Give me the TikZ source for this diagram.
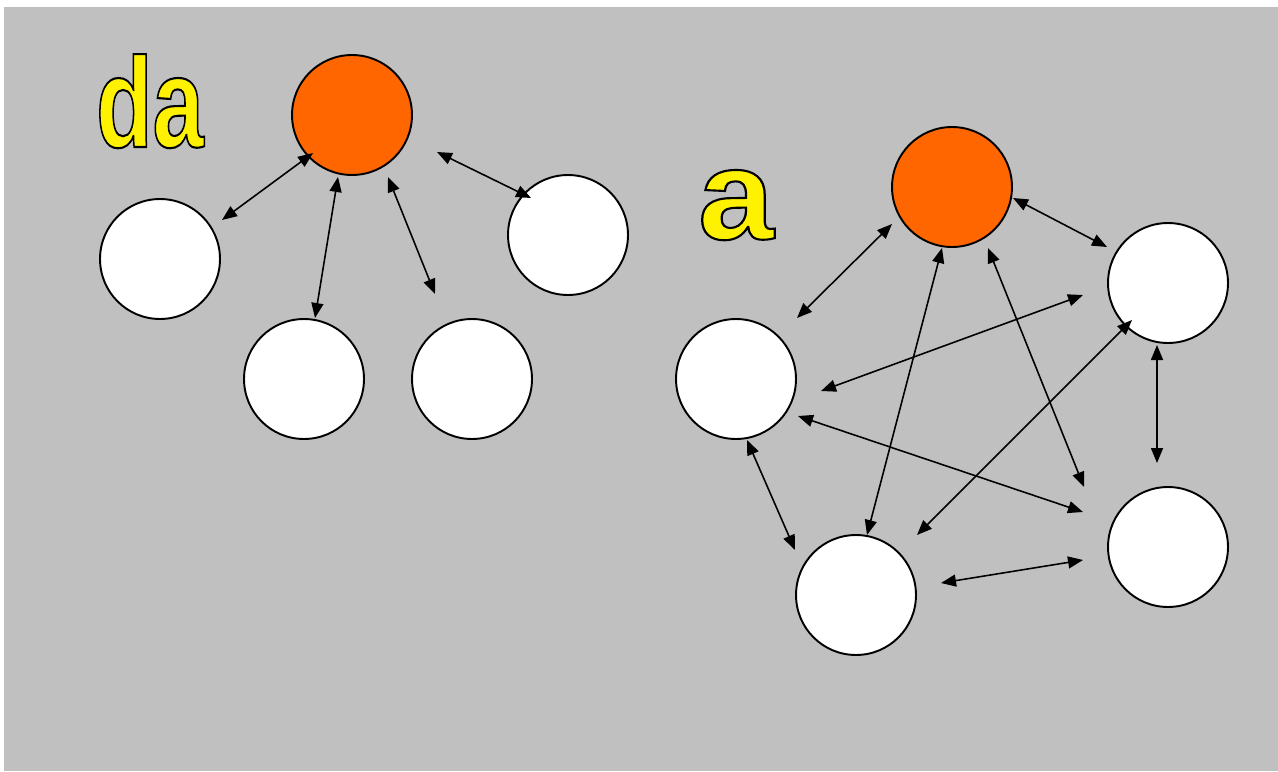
\documentclass[tikz,border=0pt]{standalone}
\usepackage{fontspec}
\usepackage{graphicx}
\newfontfamily\lblfont{Liberation Sans}
\usepackage{tikz}
\usetikzlibrary{arrows.meta,calc}
\definecolor{backgray}{RGB}{192,192,192}
\definecolor{hubcol}{RGB}{255,102,0}
% yellow letters with a black rim (fill and stroke)
\newcommand{\rimtext}[1]{\textcolor{yellow}{\special{pdf:literal direct 0 0 0 RG 2 Tr 1.2 w}#1\special{pdf:literal direct 0 Tr}}}
\tikzset{
  peer/.style={circle,draw=black,line width=1.1pt,fill=white,minimum size=2.4cm,inner sep=0pt},
  hub/.style={peer,fill=hubcol},
  link/.style={line width=0.9pt,{Triangle[length=3mm,width=2.4mm]}-{Triangle[length=3mm,width=2.4mm]}},
  tag/.style={anchor=base,inner sep=0pt,font=\lblfont\bfseries\fontsize{73}{73}\selectfont}
}

\begin{document}
\begin{tikzpicture}[x=0.02cm,y=-0.02cm]
  \useasboundingbox (0,0) rectangle (1278,771);
  \fill[backgray] (4,7) rectangle (1278,771);

  % decentralised
  \node[tag] (daText) at (150,147) {\scalebox{0.72}[1]{\rimtext{da}}};
  \node[hub]  (hubL) at (352,115) {};
  \node[peer] (pL1) at (160,259) {};
  \node[peer] (pL2) at (304,379) {};
  \node[peer] (pL3) at (472,379) {};
  \node[peer] (pL4) at (568,235) {};
  \draw[link] ($(pL1)+(62,-39)$) -- ($(hubL)+(-39,38)$);
  \draw[link] ($(hubL)+(-14,62)$) -- ($(pL2)+(11,-61)$);
  \draw[link] ($(hubL)+(36,62)$) -- ($(pL3)+(-37,-85)$);
  \draw[link] ($(hubL)+(85,37)$) -- ($(pL4)+(-37,-37)$);

  % fully connected
  \node[tag] (aText) at (736,239) {\scalebox{1.06}[1]{\rimtext{a}}};
  \node[hub]  (hubR) at (952,187) {};
  \node[peer] (pR1) at (1168,283) {};
  \node[peer] (pR2) at (736,379) {};
  \node[peer] (pR3) at (856,595) {};
  \node[peer] (pR4) at (1168,547) {};
  \draw[link] ($(pR2)+(61,-61)$) -- ($(hubR)+(-60,37)$);
  \draw[link] ($(hubR)+(61,11)$) -- ($(pR1)+(-61,-36)$);
  \draw[link] ($(pR2)+(85,12)$) -- ($(pR1)+(-85,12)$);
  \draw[link] ($(pR1)+(-36,37)$) -- ($(pR3)+(61,-60)$);
  \draw[link] ($(hubR)+(-10,61)$) -- ($(pR3)+(11,-60)$);
  \draw[link] ($(hubR)+(36,61)$) -- ($(pR4)+(-84,-60)$);
  \draw[link] ($(pR2)+(62,37)$) -- ($(pR4)+(-85,-35)$);
  \draw[link] ($(pR1)+(-11,62)$) -- ($(pR4)+(-11,-84)$);
  \draw[link] ($(pR2)+(11,61)$) -- ($(pR3)+(-61,-45)$);
  \draw[link] ($(pR3)+(85,-12)$) -- ($(pR4)+(-85,13)$);
\end{tikzpicture}
\end{document}
